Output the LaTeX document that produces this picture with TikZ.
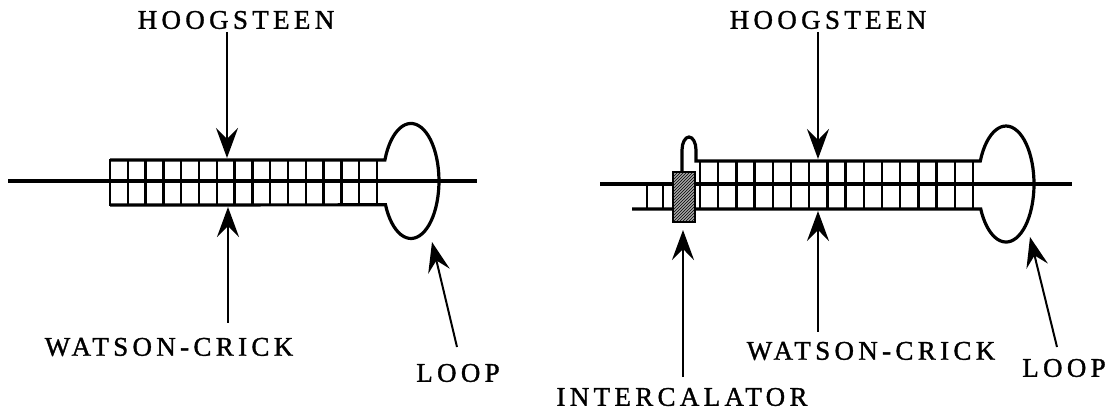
\documentclass[tikz,border=0pt]{standalone}
\usepackage{fontspec}
\newfontfamily\capsfont{Liberation Serif}[LetterSpace=16, FakeBold=1.2]
\usetikzlibrary{arrows.meta,patterns}

\begin{document}
\begin{tikzpicture}[x=1pt, y=1pt, >={Stealth[length=30pt,width=22pt,inset=11pt]},
  strand/.style={line width=3.2pt},
  rung/.style={line width=2.4pt, line cap=rect},
  pointer/.style={->, line width=2pt},
  lbltext/.style={font=\capsfont\fontsize{27}{31}\selectfont}]
\useasboundingbox (0,0) rectangle (1115,412);
% left hairpin
\draw[strand] (8,231) -- (477,231);
\draw[strand] (110,252) -- (384.9,252) arc[start angle=158.6, end angle=-155.5, x radius=28, y radius=57.5] -- (110,207);
\foreach \i in {0,...,15}
  \draw[rung] ({110+17.8*\i},252) -- ({110+17.8*\i},207);
% right hairpin with intercalator
\draw[strand] (600,228) -- (1072,228);
\draw[strand] (682,240) -- (682,262) arc[start angle=180, end angle=0, x radius=7, y radius=13] -- (696,251) -- (980.3,251) arc[start angle=156.6, end angle=-154.5, x radius=28, y radius=58] -- (632,203);
\foreach \i in {0,...,15}
  \draw[rung] ({700+18.2*\i},251) -- ({700+18.2*\i},203);
\foreach \x in {647,663}
  \draw[rung] (\x,228) -- (\x,203);
\draw[line width=1.5pt, preaction={fill=gray!70}, pattern=north east lines] (673,190) rectangle (695,240);
% labels
\node[lbltext] (hoogL) at (236,392) {HOOGSTEEN};
\node[lbltext] (wcL) at (169,65) {WATSON-CRICK};
\node[lbltext] (loopL) at (458,39) {LOOP};
\node[lbltext] (hoogR) at (828,392) {HOOGSTEEN};
\node[lbltext] (wcR) at (871,61) {WATSON-CRICK};
\node[lbltext] (loopR) at (1064,44) {LOOP};
\node[lbltext] (intR) at (682,15) {INTERCALATOR};
% arrow ends
\coordinate (hoogLtail) at (227,380);  \coordinate (hoogLtip) at (227,254);
\coordinate (wcLtail) at (228,89);     \coordinate (wcLtip) at (228,205);
\coordinate (loopLtail) at (457,65);   \coordinate (loopLtip) at (432,170);
\coordinate (hoogRtail) at (818,380);  \coordinate (hoogRtip) at (818,253);
\coordinate (wcRtail) at (818,80);     \coordinate (wcRtip) at (818,201);
\coordinate (intRtail) at (683,35);    \coordinate (intRtip) at (683,182);
\coordinate (loopRtail) at (1057,65);  \coordinate (loopRtip) at (1030,175);
\draw[pointer] (hoogLtail) -- (hoogLtip);
\draw[pointer] (wcLtail) -- (wcLtip);
\draw[pointer] (loopLtail) -- (loopLtip);
\draw[pointer] (hoogRtail) -- (hoogRtip);
\draw[pointer] (wcRtail) -- (wcRtip);
\draw[pointer] (intRtail) -- (intRtip);
\draw[pointer] (loopRtail) -- (loopRtip);
\end{tikzpicture}
\end{document}
